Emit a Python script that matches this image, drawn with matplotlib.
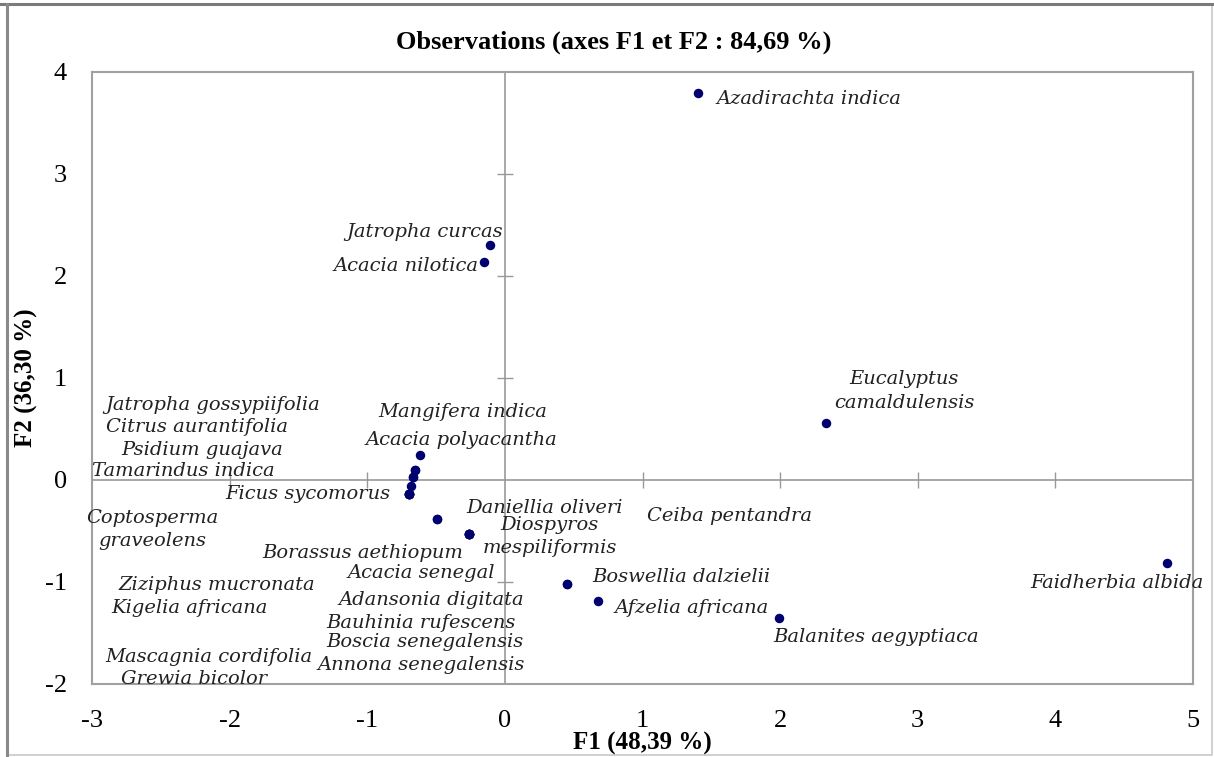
import matplotlib
matplotlib.use("Agg")
import matplotlib.pyplot as plt
from matplotlib.patches import Rectangle

plt.rcParams["axes.unicode_minus"] = False

# Observations on the F1 / F2 plane (PCA factor scores)
species = [
    "Azadirachta indica", "Jatropha curcas", "Acacia nilotica",
    "Eucalyptus\ncamaldulensis", "Faidherbia albida", "Balanites aegyptiaca",
    "Afzelia africana", "Boswellia dalzielii", "Ceiba pentandra",
    "Daniellia oliveri", "Diospyros\nmespiliformis", "Borassus aethiopum",
    "Acacia senegal", "Adansonia digitata", "Bauhinia rufescens",
    "Boscia senegalensis", "Annona senegalensis", "Mascagnia cordifolia",
    "Grewia bicolor", "Ziziphus mucronata", "Kigelia africana",
    "Coptosperma\ngraveolens", "Ficus sycomorus", "Tamarindus indica",
    "Psidium guajava", "Citrus aurantifolia", "Jatropha gossypiifolia",
    "Mangifera indica", "Acacia polyacantha",
]
f1 = [1.40, -0.11, -0.15, 2.33, 4.81, 1.99, 0.68, 0.45, 0.45,
      -0.49, -0.26, -0.49, -0.26, -0.26, -0.26, -0.26, -0.26, -0.70,
      -0.70, -0.70, -0.70, -0.70, -0.70, -0.68, -0.67, -0.67, -0.65,
      -0.62, -0.65]
f2 = [3.79, 2.30, 2.14, 0.56, -0.81, -1.35, -1.19, -1.02, -1.02,
      -0.38, -0.53, -0.38, -0.53, -0.53, -0.53, -0.53, -0.53, -0.14,
      -0.14, -0.14, -0.14, -0.14, -0.14, -0.06, 0.03, 0.03, 0.10,
      0.25, 0.10]

# label layout (data units): anchor x, anchor y, horizontal alignment
label_pos = [
    (1.54, 3.74, "left"), (-0.015, 2.43, "right"), (-0.19, 2.10, "right"),
    (2.90, 0.87, "center"), (3.82, -1.01, "left"), (1.95, -1.54, "left"),
    (0.80, -1.255, "left"), (0.632, -0.95, "left"), (1.03, -0.353, "left"),
    (-0.283, -0.275, "left"), (0.327, -0.554, "center"), (-1.76, -0.716, "left"),
    (-1.14, -0.91, "left"), (-1.206, -1.176, "left"), (-1.30, -1.40, "left"),
    (-1.30, -1.59, "left"), (-1.36, -1.81, "left"), (-2.90, -1.735, "left"),
    (-2.79, -1.95, "left"), (-2.805, -1.03, "left"), (-2.863, -1.255, "left"),
    (-2.565, -0.485, "center"), (-2.03, -0.137, "left"), (-3.0, 0.09, "left"),
    (-2.79, 0.29, "left"), (-2.90, 0.52, "left"), (-2.90, 0.735, "left"),
    (-0.923, 0.667, "left"), (-1.01, 0.39, "left"),
]

xticks = [-3, -2, -1, 0, 1, 2, 3, 4, 5]
yticks = [-2, -1, 0, 1, 2, 3, 4]

grey = "#a0a0a0"
navy = "#00006e"

fig = plt.figure(figsize=(12.14, 7.57), dpi=100)
ax = fig.add_axes([92 / 1214, 73 / 757, 1101 / 1214, 612 / 757])

# outer frame of the figure
fig.patches.append(Rectangle((7 / 1214, 2 / 757), 1205 / 1214, 751 / 757,
                             transform=fig.transFigure, fill=False,
                             edgecolor="#c8c8c8", lw=1.2))
fig.add_artist(plt.Line2D([0, 1], [1 - 3.5 / 757] * 2, color="#7a7a7a", lw=2.2))
fig.add_artist(plt.Line2D([7 / 1214] * 2, [2 / 757, 1 - 3.5 / 757], color="#8a8a8a", lw=2.2))

ax.set_xlim(-3, 5)
ax.set_ylim(-2, 4)
for s in ax.spines.values():
    s.set_color(grey)
    s.set_linewidth(1.5)

ax.axhline(0, color="#999999", lw=1.2, zorder=1)
ax.axvline(0, color="#999999", lw=1.2, zorder=1)
inner_x = [t for t in xticks if t not in (-3, 0, 5)]
inner_y = [t for t in yticks if t not in (-2, 0, 4)]
ax.plot(inner_x, [0] * len(inner_x), ls="none", marker="|", ms=11, mew=1.0, color="#999999")
ax.plot([0] * len(inner_y), inner_y, ls="none", marker="_", ms=11, mew=1.0, color="#999999")

ax.set_xticks(xticks)
ax.set_yticks(yticks)
ax.tick_params(length=0, labelsize=19)
ax.tick_params(axis="x", pad=19)
ax.tick_params(axis="y", pad=18)
for lab in ax.get_xticklabels() + ax.get_yticklabels():
    lab.set_fontfamily("Liberation Serif")

ax.scatter(f1, f2, s=34, color=navy, zorder=3)

for name, (lx, ly, ha) in zip(species, label_pos):
    ax.text(lx, ly, name, ha=ha, va="center", fontsize=14, style="italic",
            family="DejaVu Serif", color="#222222", linespacing=1.4, zorder=4)

fig.text(614 / 1214, 1 - 42 / 757, "Observations (axes F1 et F2 : 84,69 %)",
         ha="center", va="center", fontsize=19, fontweight="bold",
         family="Liberation Serif")
fig.text(642 / 1214, 1 - 743 / 757, "F1 (48,39 %)", ha="center", va="center",
         fontsize=18, fontweight="bold", family="Liberation Serif")
fig.text(26 / 1214, 1 - 378 / 757, "F2 (36,30 %)", ha="center", va="center",
         rotation=90, fontsize=18, fontweight="bold", family="Liberation Serif")

fig.savefig("out.png", dpi=100)
